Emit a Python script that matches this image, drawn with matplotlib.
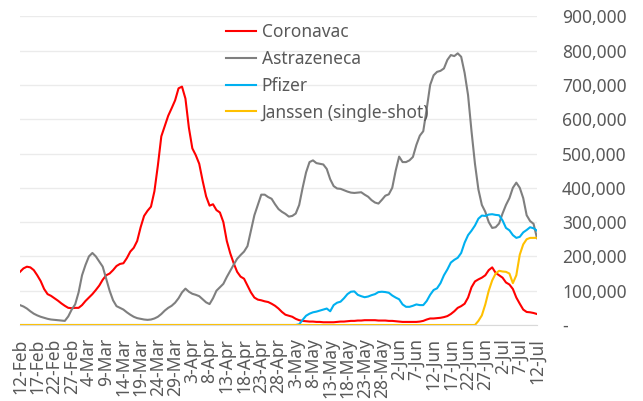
import matplotlib
matplotlib.use("Agg")
import matplotlib.pyplot as plt
from matplotlib.ticker import FuncFormatter, MultipleLocator
import numpy as np
import pandas as pd

# ==========================================
# DATA (daily doses, thousands) 12-Feb .. 12-Jul 2021
# ==========================================
dates = pd.date_range("2021-02-12", "2021-07-12", freq="D")

coronavac = [
    155, 165, 170, 168, 160, 145, 128, 105, 90, 85,
    78, 71, 63, 56, 50, 49, 50, 50, 58, 70,
    80, 90, 102, 115, 132, 145, 150, 160, 172, 178,
    180, 195, 214, 225, 245, 285, 318, 333, 345, 390,
    465, 550, 580, 610, 632, 655, 690, 695, 660, 575,
    515, 495, 470, 420, 375, 348, 352, 335, 328, 300,
    245, 209, 180, 155, 141, 135, 115, 95, 80, 74,
    72, 69, 67, 62, 56, 48, 38, 30, 27, 24,
    18, 14, 12, 11, 10, 10, 9, 9, 8, 8,
    8, 8, 9, 10, 10, 11, 12, 12, 13, 13,
    14, 14, 14, 14, 13, 13, 13, 12, 12, 11,
    10, 9, 9, 9, 9, 9, 10, 12, 16, 19,
    19, 20, 21, 23, 26, 32, 40, 50, 55, 62,
    80, 110, 127, 133, 138, 145, 160, 168, 152, 145,
    138, 124, 118, 105, 80, 62, 45, 38, 37, 35,
    32,
]

astrazeneca = [
    58, 54, 48, 40, 33, 28, 24, 21, 18, 16,
    15, 14, 13, 12, 25, 45, 60, 95, 145, 175,
    200, 210, 200, 185, 170, 135, 100, 72, 55, 50,
    45, 37, 30, 24, 20, 18, 16, 15, 16, 19,
    24, 32, 42, 50, 56, 65, 78, 95, 106, 97,
    91, 88, 84, 75, 66, 61, 78, 100, 110, 120,
    140, 158, 176, 193, 204, 214, 230, 275, 320, 350,
    380, 380, 373, 368, 352, 338, 330, 324, 316, 318,
    325, 350, 400, 445, 475, 480, 472, 470, 468, 455,
    425, 405, 398, 397, 393, 389, 386, 385, 386, 387,
    380, 374, 364, 357, 354, 365, 377, 381, 400, 450,
    491, 475, 475, 480, 490, 525, 552, 565, 630, 700,
    728, 738, 741, 748, 773, 787, 784, 792, 782, 735,
    670, 565, 470, 395, 350, 330, 300, 283, 285, 296,
    325, 350, 370, 400, 415, 400, 370, 320, 303, 295,
    253,
]

pfizer = [0] * 81 + [
    2, 15, 27, 33, 37, 39, 42, 45, 48,
    40, 58, 65, 68, 78, 90, 97, 98, 88, 84,
    81, 83, 87, 90, 96, 97, 96, 94, 86, 80,
    75, 60, 53, 53, 56, 60, 58, 58, 70, 88,
    102, 107, 122, 145, 162, 182, 190, 196, 210, 240,
    262, 275, 290, 310, 319, 318, 322, 323, 321, 320,
    305, 283, 276, 262, 254, 257, 270, 277, 285, 282,
    275,
]

janssen = [0] * 133 + [
    12, 28, 60, 100, 130, 150, 158,
    156, 155, 150, 122, 145, 205, 235, 250, 254, 254,
    254,
]

series_names = ["Coronavac", "Astrazeneca", "Pfizer", "Janssen (single-shot)"]
series_values = [coronavac, astrazeneca, pfizer, janssen]
series_colors = ["#FF0000", "#7F7F7F", "#00B0F0", "#FFC000"]

tick_idx = list(range(0, len(dates), 5))
tick_labels = [f"{dates[i].day}-{dates[i].strftime('%b')}" for i in tick_idx]

# ==========================================
# PLOT
# ==========================================
plt.rcParams["font.family"] = ["Noto Sans", "DejaVu Sans"]
TEXT = "#595959"

fig = plt.figure(figsize=(6.43, 4.01), dpi=100)
ax = fig.add_axes([20 / 643, 1 - 325 / 401, 517 / 643, (325 - 16.3) / 401])

x = np.arange(len(dates))
for name, vals, col in zip(series_names, series_values, series_colors):
    ax.plot(x, np.array(vals) * 1000, color=col, linewidth=1.5, label=name)

ax.set_xlim(0, len(dates) - 1)
ax.set_ylim(0, 900000)
ax.yaxis.set_major_locator(MultipleLocator(100000))
ax.yaxis.tick_right()
ax.yaxis.set_major_formatter(FuncFormatter(lambda v, p: "-" if v == 0 else f"{v:,.0f}"))
ax.tick_params(axis="y", length=0, pad=18, labelsize=12.5, labelcolor=TEXT)

ax.set_xticks(tick_idx)
ax.set_xticklabels(tick_labels, rotation=90)
ax.tick_params(axis="x", length=0, pad=9.5, labelsize=12.5, labelcolor=TEXT)

ax.grid(axis="y", color="#EBEBEB", linewidth=1)
ax.set_axisbelow(True)
for s in ["top", "left", "right"]:
    ax.spines[s].set_visible(False)
ax.spines["bottom"].set_color("#D9D9D9")

fig.legend(
    loc="upper left",
    bbox_to_anchor=(226 / 643, 1 - 23 / 401),
    frameon=False,
    fontsize=12.5,
    handlelength=1.75,
    handletextpad=0.3,
    labelspacing=0.51,
    borderpad=0,
    borderaxespad=0,
    labelcolor=TEXT,
)

fig.savefig("out.png", dpi=100)
